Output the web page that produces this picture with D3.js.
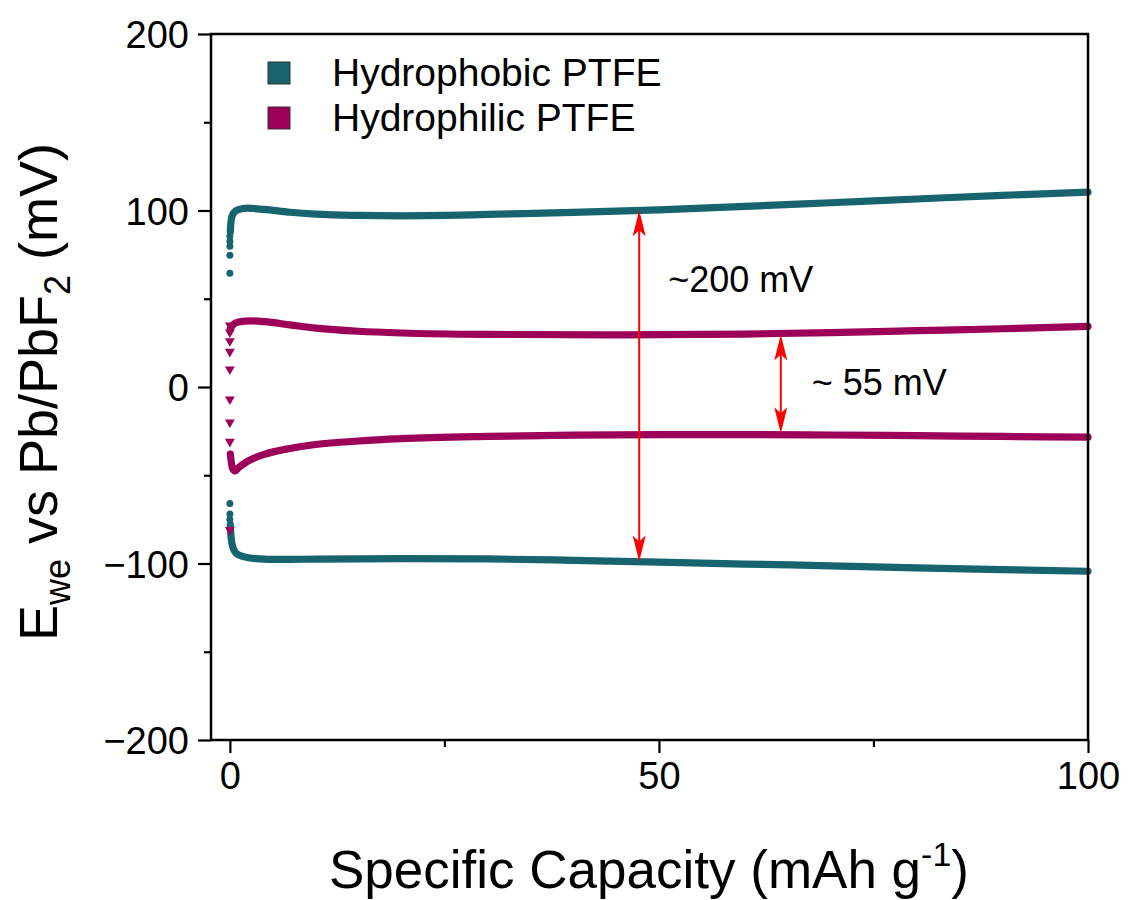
<!DOCTYPE html>
<html>
<head>
<meta charset="utf-8">
<script src="https://cdn.jsdelivr.net/npm/d3@7"></script>
<style>
  html, body { margin: 0; padding: 0; background: #fff; }
  svg { display: block; font-family: "Liberation Sans", Arial, sans-serif; }
</style>
</head>
<body>
<svg id="chart" width="1130" height="900"></svg>
<script>
// Galvanostatic profiles: potential vs Pb/PbF2 against specific capacity.

const seriesNames = ["Hydrophobic PTFE", "Hydrophilic PTFE"];
const seriesColors = ["#17646f", "#9c0058"];

// Hydrophobic PTFE — continuous branches [capacity, mV]
const phobicUpper = [
  [0.05, 88], [0.1, 92], [0.2, 96], [0.5, 99], [1, 100.5], [2, 101.3], [4, 100.6],
  [7, 99], [10, 97.9], [15, 97.2], [20, 97], [25, 97.2], [30, 97.8], [40, 98.9],
  [50, 100.4], [60, 102.3], [70, 104.4], [80, 106.5], [90, 108.6], [100, 110.4]
];
const phobicLower = [
  [0.05, -78], [0.1, -83], [0.3, -90], [0.7, -94], [1.5, -96], [3, -97.2], [6, -97.7],
  [10, -97.5], [20, -97.2], [30, -97.4], [40, -98.2], [50, -99.2], [60, -100.3],
  [70, -101.3], [80, -102.5], [90, -103.5], [100, -104.4]
];
// Sparse points recorded at the start of each step
const phobicStartPts = [64.5, 74.7, 79.8, 82.6, 85.4, -66, -72, -75];

// Hydrophilic PTFE — continuous branches [capacity, mV]
const philicUpper = [
  [0.05, 33], [0.3, 35], [1, 36.8], [2.5, 37.5], [4, 37], [7, 35.2], [10, 33.4],
  [15, 31.6], [20, 30.6], [30, 29.8], [45, 29.5], [60, 30], [70, 30.8], [80, 31.9],
  [90, 33], [100, 34.3]
];
const philicLower = [
  [0.05, -38], [0.3, -46], [0.6, -47.5], [1, -45.8], [2, -42.3], [4, -38.2], [7, -34.8],
  [10, -32.6], [15, -30.6], [20, -29.3], [30, -28], [40, -27.3], [50, -27], [60, -27],
  [70, -27.2], [80, -27.6], [90, -28], [100, -28.4]
];
const philicStartPts = [35, 31, 26, 20, 10, -7, -20, -31, -81];

// Annotated potential gaps: [capacity, top mV, bottom mV, label]
const gapArrows = [
  [47.7, 100.2, -98.8, "~200 mV"],
  [64.2, 29.8, -26.2, "~ 55 mV"]
];

const yMajorTicks = [-200, -100, 0, 100, 200];
const yMinorTicks = [-150, -50, 50, 150];
const xMajorTicks = [0, 50, 100];
const xMinorTicks = [25, 75];

const svg = d3.select("#chart");
const margin = { left: 211, top: 34, right: 1088, bottom: 740 };

const x = d3.scaleLinear().domain([-2.2, 100]).range([margin.left, margin.right]);
const y = d3.scaleLinear().domain([-200, 200]).range([margin.bottom, margin.top]);

// Data curves
const line = d3.line()
  .x(d => x(d[0]))
  .y(d => y(d[1]))
  .curve(d3.curveMonotoneX);

const curves = [
  [phobicUpper, seriesColors[0]],
  [phobicLower, seriesColors[0]],
  [philicUpper, seriesColors[1]],
  [philicLower, seriesColors[1]]
];
svg.append("g").selectAll("path")
  .data(curves)
  .join("path")
  .attr("d", d => line(d[0]))
  .attr("fill", "none")
  .attr("stroke", d => d[1])
  .attr("stroke-width", 7.2)
  .attr("stroke-linecap", "round")
  .attr("stroke-linejoin", "round");

// Start-of-step markers
svg.append("g").selectAll("circle")
  .data(phobicStartPts)
  .join("circle")
  .attr("cx", x(0))
  .attr("cy", d => y(d))
  .attr("r", 3.5)
  .attr("fill", seriesColors[0]);

const tri = d3.symbol().type(d3.symbolTriangle).size(42);
svg.append("g").selectAll("path")
  .data(philicStartPts)
  .join("path")
  .attr("d", tri)
  .attr("transform", d => `translate(${x(0)},${y(d)}) rotate(180)`)
  .attr("fill", seriesColors[1]);

// Frame
svg.append("rect")
  .attr("x", margin.left)
  .attr("y", margin.top)
  .attr("width", margin.right - margin.left)
  .attr("height", margin.bottom - margin.top)
  .attr("fill", "none")
  .attr("stroke", "#000")
  .attr("stroke-width", 2.5);

// Axes
const yAxis = d3.axisLeft(y).tickValues(yMajorTicks).tickSize(13).tickPadding(9)
  .tickFormat(d3.format("d"));
const gy = svg.append("g").attr("transform", `translate(${margin.left},0)`).call(yAxis);
const yMinor = d3.axisLeft(y).tickValues(yMinorTicks).tickSize(7).tickFormat("");
const gym = svg.append("g").attr("transform", `translate(${margin.left},0)`).call(yMinor);

const xAxis = d3.axisBottom(x).tickValues(xMajorTicks).tickSize(13).tickPadding(9)
  .tickFormat(d3.format("d"));
const gx = svg.append("g").attr("transform", `translate(0,${margin.bottom})`).call(xAxis);
const xMinor = d3.axisBottom(x).tickValues(xMinorTicks).tickSize(7).tickFormat("");
const gxm = svg.append("g").attr("transform", `translate(0,${margin.bottom})`).call(xMinor);

[gy, gym, gx, gxm].forEach(g => {
  g.select(".domain").remove();
  g.selectAll(".tick line").attr("stroke", "#000").attr("stroke-width", 2.2);
  g.selectAll(".tick text")
    .attr("fill", "#000")
    .style("font-family", "'Liberation Sans', Arial, sans-serif")
    .style("font-size", "38px");
});
gy.selectAll(".tick text").attr("dy", "0.36em");
gx.selectAll(".tick text").attr("dy", "0.7em");

// Axis titles
svg.append("text")
  .attr("x", 649)
  .attr("y", 888)
  .attr("text-anchor", "middle")
  .style("font-size", "53px")
  .attr("fill", "#000")
  .html('Specific Capacity (mAh g<tspan dy="-22" font-size="34px">-1</tspan><tspan dy="22">)</tspan>');

svg.append("text")
  .attr("transform", "translate(57,392) rotate(-90)")
  .attr("text-anchor", "middle")
  .style("font-size", "54px")
  .attr("fill", "#000")
  .html('E<tspan dy="13" font-size="36px">we</tspan><tspan dy="-13"> vs Pb/PbF</tspan><tspan dy="13" font-size="36px">2</tspan><tspan dy="-13"> (mV)</tspan>');

// Legend
const legend = svg.append("g");
seriesNames.forEach((name, i) => {
  const cy = 73 + i * 45;
  legend.append("rect")
    .attr("x", 268).attr("y", cy - 11)
    .attr("width", 22).attr("height", 22)
    .attr("fill", seriesColors[i])
    .attr("stroke", "#333").attr("stroke-width", 1);
  legend.append("text")
    .attr("x", 332).attr("y", cy + 13)
    .style("font-size", "39px")
    .attr("fill", "#000")
    .text(name);
});

// Gap annotations
const arrows = svg.append("g");
const head = "M0,0 L-6.5,26 L0,20 L6.5,26 Z";
gapArrows.forEach(([cap, top, bot, label], i) => {
  const ax = x(cap), y1 = y(top), y2 = y(bot);
  arrows.append("line")
    .attr("x1", ax).attr("x2", ax)
    .attr("y1", y1 + 10).attr("y2", y2 - 10)
    .attr("stroke", "#ff0000").attr("stroke-width", 2);
  arrows.append("path").attr("d", head)
    .attr("transform", `translate(${ax},${y1})`).attr("fill", "#ff0000");
  arrows.append("path").attr("d", head)
    .attr("transform", `translate(${ax},${y2}) rotate(180)`).attr("fill", "#ff0000");
  arrows.append("text")
    .attr("x", i === 0 ? ax + 29 : ax + 31)
    .attr("y", i === 0 ? 292 : 395)
    .style("font-size", "36px")
    .attr("fill", "#000")
    .text(label);
});
</script>
</body>
</html>
